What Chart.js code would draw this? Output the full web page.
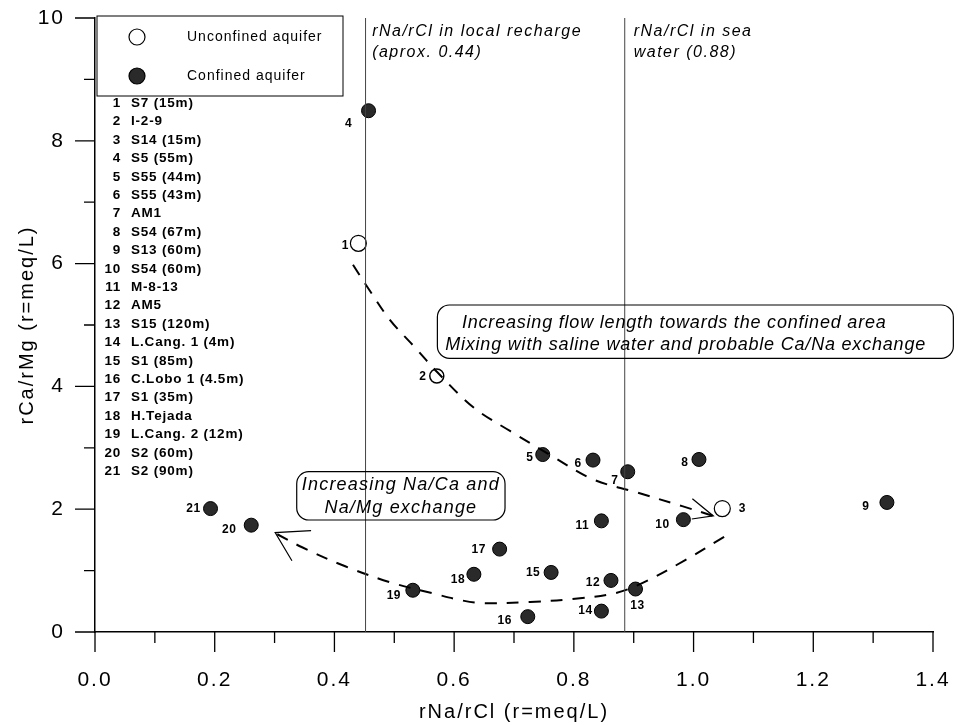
<!DOCTYPE html>
<html>
<head>
<meta charset="utf-8">
<script src="https://cdn.jsdelivr.net/npm/chart.js@4.4.1/dist/chart.umd.min.js"></script>
<style>
  html, body { margin: 0; padding: 0; background: #fff; }
</style>
</head>
<body>
<canvas id="ratio-chart" width="958" height="725"></canvas>
<script>
// well names (numbered 1..21 in the legend list)
var wellNames = ['S7 (15m)', 'I-2-9', 'S14 (15m)', 'S5 (55m)', 'S55 (44m)', 'S55 (43m)', 'AM1',
  'S54 (67m)', 'S13 (60m)', 'S54 (60m)', 'M-8-13', 'AM5', 'S15 (120m)', 'L.Cang. 1 (4m)',
  'S1 (85m)', 'C.Lobo 1 (4.5m)', 'S1 (35m)', 'H.Tejada', 'L.Cang. 2 (12m)', 'S2 (60m)', 'S2 (90m)'];
var naClRatio = [0.440, 0.571, 1.048, 0.457, 0.748, 0.832, 0.890, 1.009, 1.323, 0.983, 0.846,
  0.862, 0.903, 0.846, 0.762, 0.723, 0.676, 0.633, 0.531, 0.261, 0.193];
var caMgRatio = [6.33, 4.17, 2.01, 8.49, 2.89, 2.80, 2.61, 2.81, 2.11, 1.83, 1.81,
  0.84, 0.70, 0.34, 0.97, 0.25, 1.35, 0.94, 0.68, 1.74, 2.01];
var aquifer = ['unconfined', 'mixed', 'unconfined', 'confined', 'confined', 'confined', 'confined',
  'confined', 'confined', 'confined', 'confined', 'confined', 'confined', 'confined', 'confined',
  'confined', 'confined', 'confined', 'confined', 'confined', 'confined'];

// reference ratios drawn as vertical lines
var localRecharge = 0.452;
var seaWater = 0.885;

// hand-drawn flow paths (dashed) and their arrow heads
var pathAx = [0.431, 0.455, 0.493, 0.535, 0.572, 0.632, 0.694, 0.761, 0.831, 0.903, 0.981, 1.033];
var pathAy = [5.98, 5.62, 5.08, 4.63, 4.23, 3.66, 3.27, 2.88, 2.49, 2.28, 2.05, 1.89];
var arrowAx = [0.998, 1.033, 0.997];
var arrowAy = [2.17, 1.89, 1.84];
var pathBx = [1.051, 0.986, 0.915, 0.872, 0.802, 0.727, 0.647, 0.610, 0.568, 0.493, 0.418, 0.346, 0.301];
var pathBy = [1.55, 1.17, 0.80, 0.64, 0.54, 0.49, 0.47, 0.52, 0.62, 0.81, 1.07, 1.38, 1.61];
var arrowBx = [0.361, 0.301, 0.329];
var arrowBy = [1.65, 1.62, 1.16];

var xTickLabels = ['0.0', '0.2', '0.4', '0.6', '0.8', '1.0', '1.2', '1.4'];
var yTickLabels = ['0', '2', '4', '6', '8', '10'];

var FONT = "'Liberation Sans', Arial, Helvetica, sans-serif";
// label offsets in px from each point (style only)
var labelOffsets = [[-13, 2], [-14, 1], [20, 0], [-20, 13], [-13, 3], [-15, 4], [-13, 9], [-14, 3],
  [-21, 4], [-21, 5], [-19, 5], [-18, 2], [2, 17], [-16, 0], [-18, 0], [-23, 4], [-21, 1],
  [-16, 5], [-19, 5], [-22, 5], [-17, 0]];

function xy(xs, ys) {
  return xs.map(function (x, i) { return { x: x, y: ys[i] }; });
}
function wells(type) {
  return naClRatio.map(function (x, i) { return { x: x, y: caMgRatio[i], t: aquifer[i] }; })
    .filter(function (p) { return p.t === type; });
}

function txt(ctx, s, x, y, font, align, spacing) {
  ctx.save();
  ctx.font = font;
  ctx.letterSpacing = (spacing || 0) + 'px';
  ctx.textAlign = align || 'left';
  ctx.textBaseline = 'middle';
  ctx.fillStyle = '#000';
  ctx.fillText(s, x, y);
  ctx.restore();
}

var extras = {
  id: 'extras',
  beforeDraw: function (chart) { chart.ctx.letterSpacing = '2px'; },
  afterDatasetsDraw: function (chart) {
    var ctx = chart.ctx, xs = chart.scales.x, ys = chart.scales.y;
    function X(v) { return xs.getPixelForValue(v); }
    function Y(v) { return ys.getPixelForValue(v); }

    // point numbers
    naClRatio.forEach(function (x, i) {
      txt(ctx, String(i + 1), X(x) + labelOffsets[i][0], Y(caMgRatio[i]) + labelOffsets[i][1],
        'bold 12px ' + FONT, 'center', 0.5);
    });

    // reference line captions
    var it = 'italic 16px ' + FONT;
    txt(ctx, 'rNa/rCl in local recharge', X(0.463), Y(9.78), it, 'left', 1.5);
    txt(ctx, '(aprox. 0.44)', X(0.463), Y(9.43), it, 'left', 1.5);
    txt(ctx, 'rNa/rCl in sea', X(0.900), Y(9.78), it, 'left', 1.5);
    txt(ctx, 'water (0.88)', X(0.900), Y(9.43), it, 'left', 1.5);

    // rounded comment boxes
    ctx.save();
    ctx.strokeStyle = '#000';
    ctx.lineWidth = 1.2;
    ctx.beginPath();
    ctx.roundRect(X(0.572), Y(5.326), X(1.434) - X(0.572), Y(4.458) - Y(5.326), 12);
    ctx.stroke();
    ctx.beginPath();
    ctx.roundRect(X(0.337), Y(2.611), X(0.685) - X(0.337), Y(1.824) - Y(2.611), 12);
    ctx.stroke();
    ctx.restore();
    var bt = 'italic 18px ' + FONT;
    txt(ctx, 'Increasing flow length towards the confined area', X(0.613), Y(5.028), bt, 'left', 0.8);
    txt(ctx, 'Mixing with saline water and probable Ca/Na exchange', X(0.585), Y(4.674), bt, 'left', 0.8);
    txt(ctx, 'Increasing Na/Ca and', X(0.511), Y(2.394), bt, 'center', 1.2);
    txt(ctx, 'Na/Mg exchange', X(0.511), Y(2.015), bt, 'center', 1.2);

    // legend box with well list
    var L = chart.chartArea.left, T = chart.chartArea.top;
    ctx.save();
    ctx.strokeStyle = '#000';
    ctx.lineWidth = 1;
    ctx.strokeRect(L + 2, T - 2, 246, 80);
    ctx.beginPath();
    ctx.arc(L + 42, T + 19, 8, 0, Math.PI * 2);
    ctx.fillStyle = '#fff';
    ctx.fill();
    ctx.lineWidth = 1.2;
    ctx.stroke();
    ctx.beginPath();
    ctx.arc(L + 42, T + 58, 8, 0, Math.PI * 2);
    ctx.fillStyle = '#2a2a2a';
    ctx.fill();
    ctx.stroke();
    ctx.restore();
    txt(ctx, 'Unconfined aquifer', L + 92, T + 19, '14px ' + FONT, 'left', 1);
    txt(ctx, 'Confined aquifer', L + 92, T + 58, '14px ' + FONT, 'left', 1);
    wellNames.forEach(function (n, i) {
      var yy = T + 85.3 + i * 18.4;
      txt(ctx, String(i + 1), L + 26, yy, 'bold 13.5px ' + FONT, 'right', 0.8);
      txt(ctx, n, L + 36, yy, 'bold 13.5px ' + FONT, 'left', 0.8);
    });
  },
  afterDraw: function (chart) {
    var ctx = chart.ctx, xs = chart.scales.x, ys = chart.scales.y;
    var base = ys.getPixelForValue(0), left = xs.getPixelForValue(0);
    ctx.save();
    ctx.strokeStyle = '#000';
    ctx.lineWidth = 1.3;
    ctx.beginPath();
    xs.ticks.forEach(function (t) {
      var major = Math.round(t.value * 10) % 2 === 0;
      var p = xs.getPixelForValue(t.value);
      ctx.moveTo(p, base);
      ctx.lineTo(p, base + (major ? 20 : 11));
    });
    ys.ticks.forEach(function (t) {
      var major = Math.round(t.value) % 2 === 0;
      var p = ys.getPixelForValue(t.value);
      ctx.moveTo(left, p);
      ctx.lineTo(left - (major ? 20 : 11), p);
    });
    ctx.stroke();
    ctx.restore();
    ctx.letterSpacing = '0px';
  }
};

// tick marks are drawn by the plugin above; the hidden grid ticks only push the labels out
var hiddenTicks = function (len) {
  return { display: true, drawOnChartArea: false, drawTicks: true, tickLength: len,
    tickColor: 'rgba(0,0,0,0)' };
};

new Chart(document.getElementById('ratio-chart'), {
  type: 'scatter',
  data: {
    datasets: [
      { data: [{ x: localRecharge, y: 0 }, { x: localRecharge, y: 10 }], showLine: true,
        borderColor: '#444', borderWidth: 1, pointRadius: 0 },
      { data: [{ x: seaWater, y: 0 }, { x: seaWater, y: 10 }], showLine: true,
        borderColor: '#444', borderWidth: 1, pointRadius: 0 },
      { data: xy(pathAx, pathAy), showLine: true, borderColor: '#000', borderWidth: 2,
        borderDash: [12, 10], tension: 0.35, pointRadius: 0 },
      { data: xy(arrowAx, arrowAy), showLine: true, borderColor: '#000', borderWidth: 1.2, pointRadius: 0 },
      { data: xy(pathBx, pathBy), showLine: true, borderColor: '#000', borderWidth: 2,
        borderDash: [12, 10], tension: 0.35, pointRadius: 0 },
      { data: xy(arrowBx, arrowBy), showLine: true, borderColor: '#000', borderWidth: 1.2, pointRadius: 0 },
      { label: 'Unconfined aquifer', data: wells('unconfined'), pointRadius: 8,
        backgroundColor: '#fff', borderColor: '#000', borderWidth: 1.2 },
      { data: wells('mixed'), pointRadius: 7, backgroundColor: '#fff', borderColor: '#000', borderWidth: 1.5 },
      { data: wells('mixed'), pointRadius: 6, pointStyle: 'line', rotation: 45,
        borderColor: '#000', borderWidth: 2.5 },
      { label: 'Confined aquifer', data: wells('confined'), pointRadius: 7,
        backgroundColor: '#2a2a2a', borderColor: '#000', borderWidth: 1 }
    ]
  },
  options: {
    responsive: false,
    animation: false,
    layout: { padding: { top: 18, right: 25, left: 0, bottom: 0 } },
    plugins: { legend: { display: false }, tooltip: { enabled: false } },
    scales: {
      x: {
        type: 'linear', min: 0, max: 1.4,
        afterFit: function (s) { s.height = 93; },
        grid: hiddenTicks(36),
        border: { display: true, color: '#000', width: 1.5 },
        ticks: {
          stepSize: 0.1, autoSkip: false, maxRotation: 0, padding: 0,
          color: '#000', font: { family: FONT, size: 21 },
          callback: function (v) {
            var k = Math.round(v * 10);
            return k % 2 === 0 ? xTickLabels[k / 2] : '';
          }
        },
        title: { display: true, text: 'rNa/rCl (r=meq/L)', color: '#000',
          font: { family: FONT, size: 20 }, padding: { top: 0, bottom: 1 } }
      },
      y: {
        type: 'linear', min: 0, max: 10,
        afterFit: function (s) { s.width = 95; },
        grid: hiddenTicks(30),
        border: { display: true, color: '#000', width: 1.5 },
        ticks: {
          stepSize: 1, autoSkip: false, padding: 0,
          color: '#000', font: { family: FONT, size: 21 },
          callback: function (v) {
            return Math.round(v) % 2 === 0 ? yTickLabels[Math.round(v) / 2] : '';
          }
        },
        title: { display: true, text: 'rCa/rMg (r=meq/L)', color: '#000',
          font: { family: FONT, size: 20 }, padding: { top: 15, bottom: 0 } }
      }
    }
  },
  plugins: [extras]
});
</script>
</body>
</html>
